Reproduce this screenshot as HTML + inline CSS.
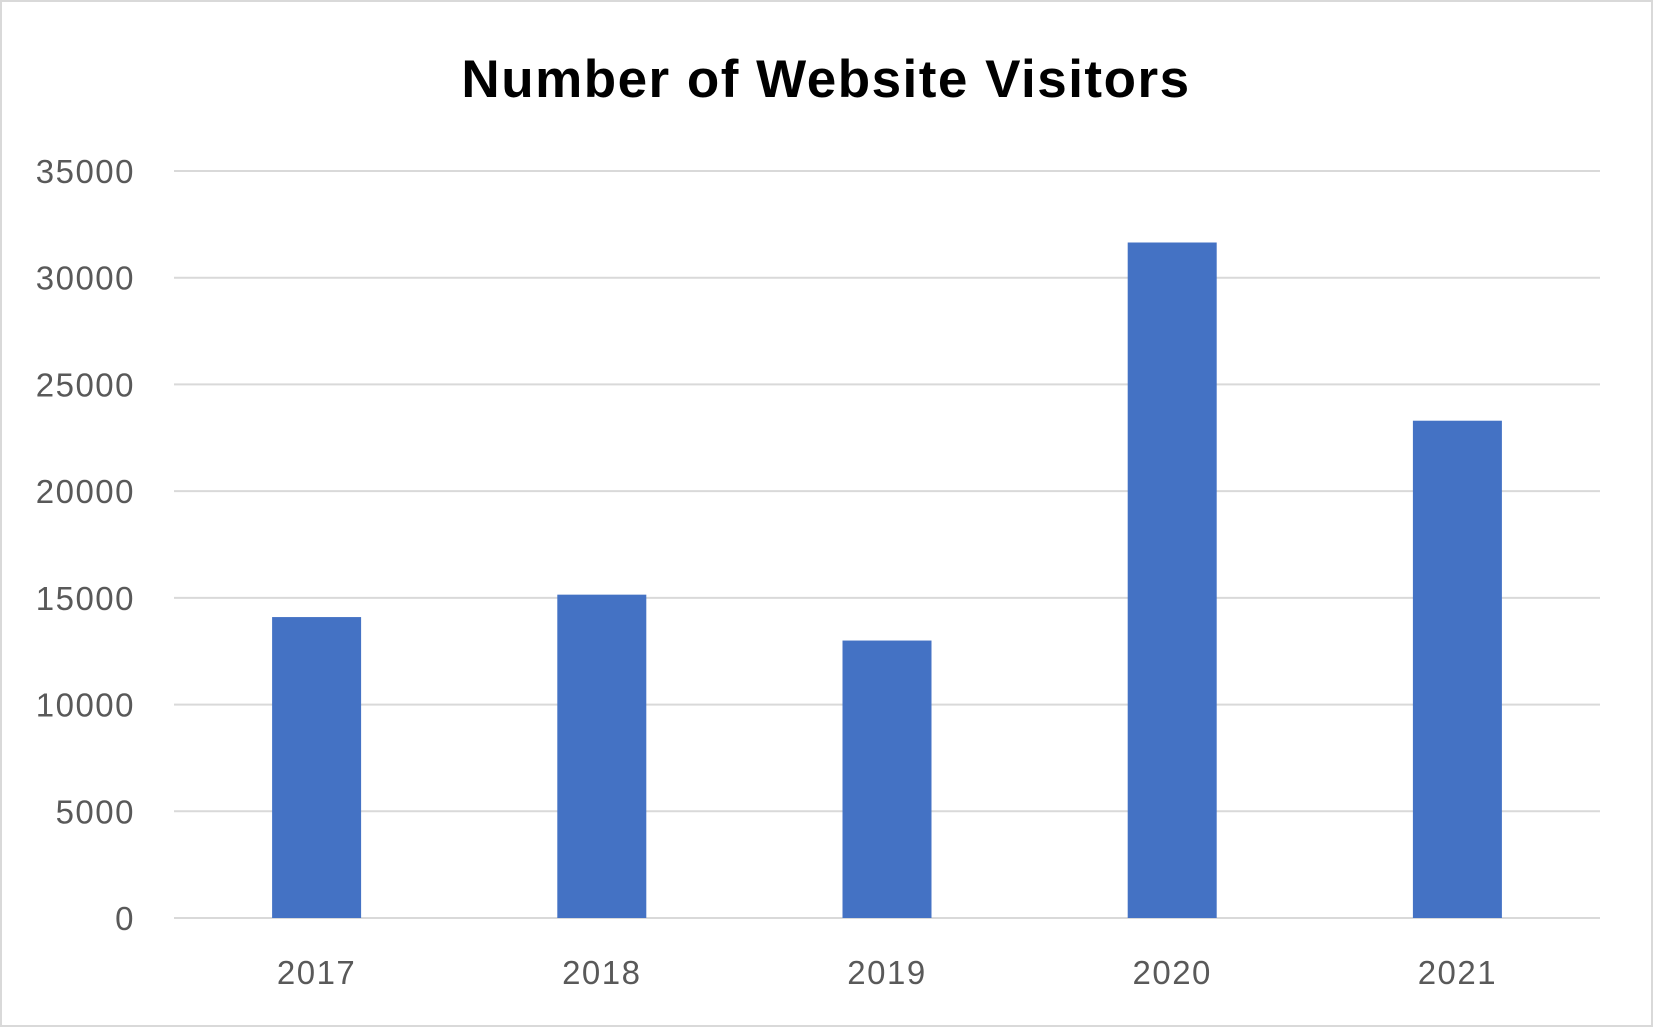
<!DOCTYPE html>
<html><head><meta charset="utf-8"><style>
html,body{margin:0;padding:0;background:#fff;}
svg{display:block;font-family:"Liberation Sans",sans-serif;}
</style></head><body>
<svg id="chart" width="1653" height="1027">
<rect x="1" y="1" width="1651" height="1025" fill="#fff" stroke="#d9d9d9" stroke-width="2"/>
<text x="826" y="97" text-anchor="middle" font-size="53" font-weight="bold" letter-spacing="1.5" fill="#000">Number of Website Visitors</text>
<g id="grid"></g><g id="bars"></g><g id="labels"></g>
</svg>
<script>
const categories = ["2017","2018","2019","2020","2021"];
const visitors = [14100, 15150, 13000, 31650, 23300];
const yTicks = [0,5000,10000,15000,20000,25000,30000,35000];
const ns="http://www.w3.org/2000/svg";
const L=174,R=1600,Y0=918,Y1=171,maxV=35000;
const y=v=>Y0-(v/maxV)*(Y0-Y1);
const band=(R-L)/categories.length;
const x=i=>L+band*i+band/2;
const grid=document.getElementById('grid'),bars=document.getElementById('bars'),labels=document.getElementById('labels');
yTicks.forEach(t=>{
  const ln=document.createElementNS(ns,'line');
  ln.setAttribute('x1',L);ln.setAttribute('x2',R);ln.setAttribute('y1',y(t));ln.setAttribute('y2',y(t));
  ln.setAttribute('stroke','#d9d9d9');ln.setAttribute('stroke-width','2');
  
  
  grid.appendChild(ln);
  const tx=document.createElementNS(ns,'text');
  tx.setAttribute('x',135);tx.setAttribute('y',y(t)+12);tx.setAttribute('text-anchor','end');
  tx.setAttribute('font-size','33');tx.setAttribute('letter-spacing','1.5');tx.setAttribute('fill','#595959');tx.textContent=t;
  
  
  labels.appendChild(tx);
});
const bw=89;
categories.forEach((c,i)=>{
  const r=document.createElementNS(ns,'rect');
  r.setAttribute('x',x(i)-bw/2);r.setAttribute('y',y(visitors[i]));
  r.setAttribute('width',bw);r.setAttribute('height',Y0-y(visitors[i]));
  r.setAttribute('fill','#4472c4');
  
  
  bars.appendChild(r);
  const tx=document.createElementNS(ns,'text');
  tx.setAttribute('x',x(i));tx.setAttribute('y',984);tx.setAttribute('text-anchor','middle');
  tx.setAttribute('font-size','33');tx.setAttribute('letter-spacing','1.5');tx.setAttribute('fill','#595959');tx.textContent=c;
  
  
  labels.appendChild(tx);
});
</script>
</body></html>
